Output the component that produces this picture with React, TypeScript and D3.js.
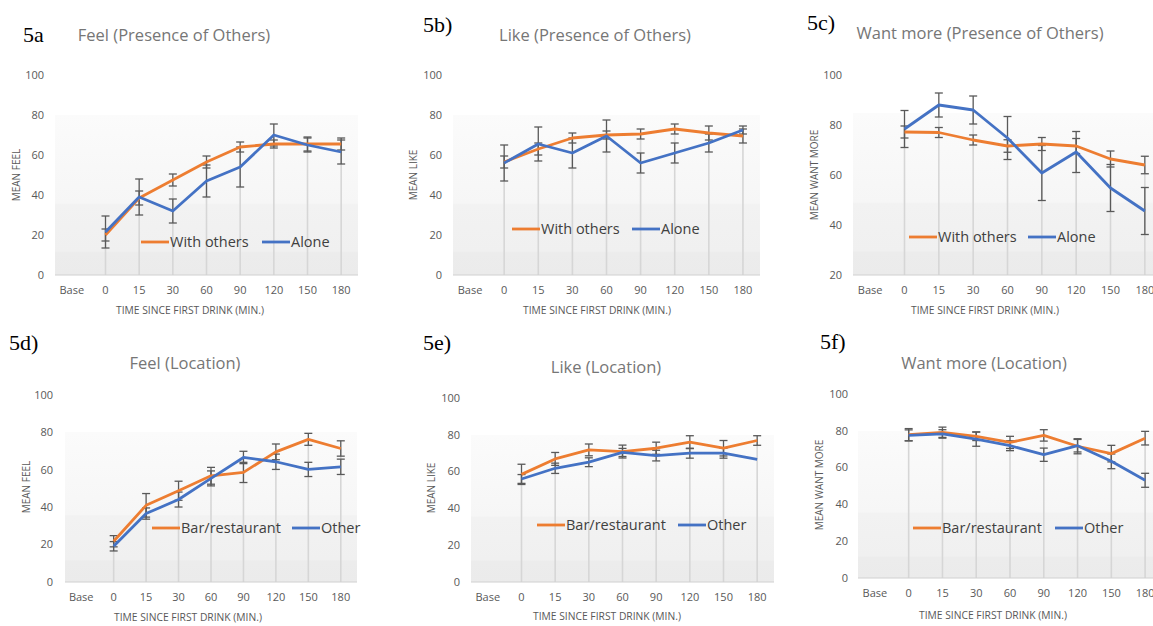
import React from 'react';
import * as d3 from 'd3';

// x categories (Base has no data)
const categories = ['Base', '0', '15', '30', '60', '90', '120', '150', '180'];
const timePoints = categories.slice(1);
const xTitle = 'TIME SINCE FIRST DRINK (MIN.)';

// 5a feel, presence of others
const feelWithOthers = [20, 38.5, 47.5, 56.5, 64, 65.5, 65.5, 65.5];
const feelWithOthersErr = [3, 3.5, 3, 3, 2.5, 2, 3.5, 3];
const feelAlone = [21.5, 39, 32, 47, 54, 70, 65, 61.5];
const feelAloneErr = [8, 9, 6, 8, 10, 5.5, 3.5, 6];

// 5b like, presence of others
const likeWithOthers = [56.5, 63, 68.5, 70, 70.5, 73, 71, 69.5];
const likeWithOthersErr = [3, 3, 2.5, 2, 2.5, 2.5, 3.5, 3.5];
const likeAlone = [56, 65.5, 61, 69.5, 56, 61, 66, 72.5];
const likeAloneErr = [9, 8.5, 7.5, 8, 5, 5, 4.5, 2];

// 5c want more, presence of others
const wantWithOthers = [77.2, 77, 74, 71.6, 72.4, 71.6, 66.4, 64];
const wantWithOthersErr = [2.4, 2, 2, 2.5, 2.6, 3, 3.2, 3.5];
const wantAlone = [78.4, 88, 86, 74.8, 60.8, 69.2, 54.8, 45.6];
const wantAloneErr = [7.4, 4.8, 5.6, 8.6, 11, 8.2, 9.4, 9.4];

// 5d feel, location
const feelBar = [21.8, 41, 48.8, 56.8, 58.6, 69.6, 76.3, 71.4];
const feelBarErr = [3, 6.3, 5.1, 4.5, 5.4, 4.2, 3.2, 4.1];
const feelOther = [19.1, 36.6, 44.1, 55.4, 66.6, 64.3, 60.2, 61.6];
const feelOtherErr = [2.5, 3, 4, 4, 3.3, 4.1, 3.8, 4.1];

// 5e like, location
const likeBar = [58.5, 66.9, 71.8, 70.9, 72.7, 76, 72.7, 76.9];
const likeBarErr = [5.5, 3.5, 3.2, 3.5, 3.3, 3.5, 4.2, 2.6];
const likeOther = [56, 61.8, 65.1, 70.4, 68.7, 70, 70, 66.7];
const likeOtherErr = [2.4, 2.8, 2.4, 2.2, 2.9, 2.7, 2.7, 0];

// 5f want more, location
const wantBar = [77.9, 79.2, 77, 73.7, 77.5, 71.6, 67.6, 76];
const wantBarErr = [3.3, 2.8, 2.3, 3.3, 3.1, 4.1, 4.5, 3.7];
const wantOther = [77.5, 78.3, 75.5, 71.9, 67, 71.9, 63.4, 53.1];
const wantOtherErr = [3, 2.3, 3.9, 2.7, 3.6, 3.4, 4, 3.8];

const othersNames = ['With others', 'Alone'];
const locationNames = ['Bar/restaurant', 'Other'];

const ORANGE = '#ED7D31';
const BLUE = '#4472C4';
const FONT = '"Open Sans", "Noto Sans", sans-serif';

const panels = [
  {
    id: 'a', tag: '5a', tagX: 23, tagY: 42, title: 'Feel (Presence of Others)', titleX: 174, titleY: 41,
    x0: 55, x1: 358, yTop: 75, yBot: 275, bgTop: 115, domain: [0, 100], tickX: 44,
    yTitle: 'MEAN FEEL', yTitleX: 16, yTitleY: 175, xTitleX: 190, xTitleY: 314,
    legY: 242, leg1: 141, leg2: 262, names: othersNames,
    a: feelWithOthers, aErr: feelWithOthersErr, b: feelAlone, bErr: feelAloneErr,
  },
  {
    id: 'b', tag: '5b)', tagX: 423, tagY: 32, title: 'Like (Presence of Others)', titleX: 595, titleY: 41,
    x0: 453, x1: 760, yTop: 75, yBot: 275, bgTop: 115, domain: [0, 100], tickX: 442,
    yTitle: 'MEAN LIKE', yTitleX: 413, yTitleY: 175, xTitleX: 597, xTitleY: 314,
    legY: 229, leg1: 512, leg2: 632, names: othersNames,
    a: likeWithOthers, aErr: likeWithOthersErr, b: likeAlone, bErr: likeAloneErr,
  },
  {
    id: 'c', tag: '5c)', tagX: 807, tagY: 30, title: 'Want more (Presence of Others)', titleX: 980, titleY: 39,
    x0: 853, x1: 1162, yTop: 75, yBot: 275, bgTop: 113, domain: [20, 100], tickX: 842,
    yTitle: 'MEAN WANT MORE', yTitleX: 814, yTitleY: 175, xTitleX: 985, xTitleY: 314,
    legY: 237, leg1: 909, leg2: 1028, names: othersNames,
    a: wantWithOthers, aErr: wantWithOthersErr, b: wantAlone, bErr: wantAloneErr,
  },
  {
    id: 'd', tag: '5d)', tagX: 9, tagY: 350, title: 'Feel (Location)', titleX: 185, titleY: 369,
    x0: 65, x1: 357, yTop: 395, yBot: 582, bgTop: 432, domain: [0, 100], tickX: 53,
    yTitle: 'MEAN FEEL', yTitleX: 26, yTitleY: 487, xTitleX: 188, xTitleY: 621,
    legY: 528, leg1: 152, leg2: 292, names: locationNames,
    a: feelBar, aErr: feelBarErr, b: feelOther, bErr: feelOtherErr,
  },
  {
    id: 'e', tag: '5e)', tagX: 423, tagY: 350, title: 'Like (Location)', titleX: 606, titleY: 373,
    x0: 471, x1: 774, yTop: 398, yBot: 582, bgTop: 435, domain: [0, 100], tickX: 460,
    yTitle: 'MEAN LIKE', yTitleX: 431, yTitleY: 488, xTitleX: 607, xTitleY: 620,
    legY: 525, leg1: 537, leg2: 678, names: locationNames,
    a: likeBar, aErr: likeBarErr, b: likeOther, bErr: likeOtherErr,
  },
  {
    id: 'f', tag: '5f)', tagX: 820, tagY: 349, title: 'Want more (Location)', titleX: 984, titleY: 369,
    x0: 858, x1: 1162, yTop: 394, yBot: 578, bgTop: 431, domain: [0, 100], tickX: 848,
    yTitle: 'MEAN WANT MORE', yTitleX: 819, yTitleY: 485, xTitleX: 993, xTitleY: 619,
    legY: 528, leg1: 913, leg2: 1055, names: locationNames,
    a: wantBar, aErr: wantBarErr, b: wantOther, bErr: wantOtherErr,
  },
];

function ErrorBars({ vals, errs, x, y }) {
  return (
    <g stroke="#595959" strokeWidth={1.3}>
      {vals.map((v, i) => {
        const e = errs[i];
        if (!e) return null;
        const cx = x(timePoints[i]) + x.bandwidth() / 2;
        return (
          <g key={i}>
            <line x1={cx} x2={cx} y1={y(v - e)} y2={y(v + e)} />
            <line x1={cx - 4} x2={cx + 4} y1={y(v - e)} y2={y(v - e)} />
            <line x1={cx - 4} x2={cx + 4} y1={y(v + e)} y2={y(v + e)} />
          </g>
        );
      })}
    </g>
  );
}

function Panel({ p }) {
  const x = d3.scaleBand().domain(categories).range([p.x0, p.x1]).padding(0);
  const y = d3.scaleLinear().domain(p.domain).range([p.yBot, p.yTop]);
  const cx = (c) => x(c) + x.bandwidth() / 2;
  const line = d3.line().x((_, i) => cx(timePoints[i])).y((d) => y(d));
  const seriesTop = p.a.map((v, i) => Math.max(v, p.b[i]));

  return (
    <g>
      <rect x={p.x0} y={p.bgTop} width={p.x1 - p.x0} height={p.yBot - p.bgTop} fill="url(#bg)" />
      {/* drop lines */}
      <g stroke="#d6d6d6" strokeWidth={1.6}>
        {seriesTop.map((v, i) => (
          <line key={i} x1={cx(timePoints[i])} x2={cx(timePoints[i])} y1={y(v)} y2={p.yBot} />
        ))}
      </g>
      <line x1={p.x0} x2={p.x1} y1={p.yBot} y2={p.yBot} stroke="#d0d0d0" strokeWidth={1} />
      {/* y ticks */}
      <g fontFamily={FONT} fontSize={11} fill="#595959" textAnchor="end">
        {y.ticks(5).map((t) => (
          <text key={t} x={p.tickX} y={y(t)} dy="0.35em">{t}</text>
        ))}
      </g>
      {/* x ticks */}
      <g fontFamily={FONT} fontSize={11} fill="#595959" textAnchor="middle">
        {categories.map((c) => (
          <text key={c} x={cx(c)} y={p.yBot + 15} dy="0.35em">{c}</text>
        ))}
      </g>
      <text x={p.xTitleX} y={p.xTitleY} textAnchor="middle" fontFamily={FONT} fontSize={10.3} fill="#595959">
        {xTitle}
      </text>
      <text transform={`translate(${p.yTitleX},${p.yTitleY}) rotate(-90)`} textAnchor="middle"
        dy="0.35em" fontFamily={FONT} fontSize={10} fill="#595959">
        {p.yTitle}
      </text>
      <text x={p.tagX} y={p.tagY} fontFamily='"Liberation Serif", "Times New Roman", serif' fontSize={22} fill="#000">
        {p.tag}
      </text>
      <text x={p.titleX} y={p.titleY} textAnchor="middle" fontFamily={FONT} fontSize={16.5} fill="#767676">
        {p.title}
      </text>

      <ErrorBars vals={p.a} errs={p.aErr} x={x} y={y} />
      <ErrorBars vals={p.b} errs={p.bErr} x={x} y={y} />
      <path d={line(p.a)} fill="none" stroke={ORANGE} strokeWidth={2.8} strokeLinejoin="round" />
      <path d={line(p.b)} fill="none" stroke={BLUE} strokeWidth={2.8} strokeLinejoin="round" />

      {/* legend */}
      <g fontFamily={FONT} fontSize={14.5} fill="#404040">
        <line x1={p.leg1} x2={p.leg1 + 28} y1={p.legY} y2={p.legY} stroke={ORANGE} strokeWidth={2.8} />
        <text x={p.leg1 + 29} y={p.legY} dy="0.35em">{p.names[0]}</text>
        <line x1={p.leg2} x2={p.leg2 + 28} y1={p.legY} y2={p.legY} stroke={BLUE} strokeWidth={2.8} />
        <text x={p.leg2 + 29} y={p.legY} dy="0.35em">{p.names[1]}</text>
      </g>
    </g>
  );
}

export default function App() {
  return (
    <svg width={1153} height={626} style={{ position: 'absolute', left: 0, top: 0, background: '#fff' }}>
      <defs>
        <linearGradient id="bg" x1="0" y1="0" x2="0" y2="1">
          <stop offset="0%" stopColor="#fbfbfb" />
          <stop offset="55%" stopColor="#f6f6f6" />
          <stop offset="56%" stopColor="#f2f2f2" />
          <stop offset="85%" stopColor="#f0f0f0" />
          <stop offset="86%" stopColor="#ececec" />
          <stop offset="100%" stopColor="#ebebeb" />
        </linearGradient>
      </defs>
      {panels.map((p) => (
        <Panel key={p.id} p={p} />
      ))}
    </svg>
  );
}
